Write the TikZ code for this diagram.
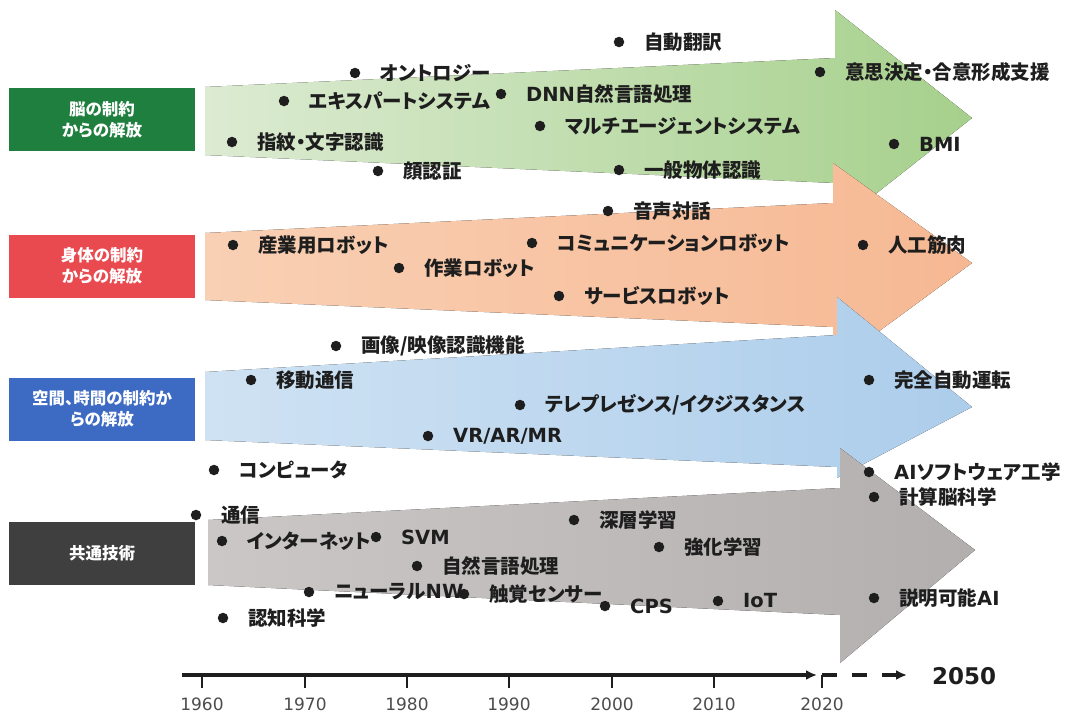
\documentclass[tikz,border=0pt]{standalone}
\usepackage{fontspec}
\setmainfont{Noto Sans CJK JP}[RawFeature=+palt]
\newfontfamily\lat{DejaVu Sans}
\usetikzlibrary{arrows.meta}

\definecolor{greenL}{HTML}{DCEBD2}
\definecolor{greenR}{HTML}{A6D08C}
\definecolor{orangeL}{HTML}{F9D0B4}
\definecolor{orangeR}{HTML}{F6B893}
\definecolor{blueL}{HTML}{CFE2F3}
\definecolor{blueR}{HTML}{ACCDEB}
\definecolor{greyL}{HTML}{CBC7C7}
\definecolor{greyR}{HTML}{B3AFAF}
\definecolor{brainbox}{HTML}{1F7F3F}
\definecolor{bodybox}{HTML}{E84A4F}
\definecolor{spacebox}{HTML}{3D6BC4}
\definecolor{commonbox}{HTML}{3F3F3F}
\definecolor{txt}{HTML}{1E1E1E}

\tikzset{
  catbox/.style={minimum width=186pt,minimum height=63pt,inner sep=0pt,text=white,align=center,font=\bfseries\fontsize{16.5}{21}\selectfont},
  dot/.style={circle,fill=txt,inner sep=0pt,minimum size=10.5pt},
  item/.style={anchor=west,inner sep=0pt,text=txt,font=\bfseries\fontsize{19.5}{19.5}\selectfont},
  axisline/.style={line width=3.5pt,draw=txt},
  tickline/.style={line width=2pt,draw=txt},
  yearlbl/.style={inner sep=0pt,text=black!70,font=\lat\fontsize{17}{17}\selectfont},
  endyear/.style={anchor=west,inner sep=0pt,text=txt,font=\lat\bfseries\fontsize{23}{23}\selectfont},
}

\begin{document}
\begin{tikzpicture}[x=1pt,y=-1pt]
    \useasboundingbox (0,0) rectangle (1073,715);

    % big arrows, later ones lie on top
    \fill[left color=greenL,right color=greenR] (205,87) -- (835,58) -- (835,10) -- (972,118) -- (835,226) -- (835,183) -- (205,155) -- cycle;
    \fill[left color=orangeL,right color=orangeR] (205,233) -- (833,203) -- (833,163) -- (972,263) -- (833,365) -- (833,327) -- (205,300) -- cycle;
    \fill[left color=blueL,right color=blueR] (205,372) -- (837,335) -- (837,297) -- (972,407) -- (837,478) -- (837,467) -- (205,440) -- cycle;
    \fill[left color=greyL,right color=greyR] (208,520) -- (840,488) -- (840,448) -- (975,550) -- (840,663) -- (840,615) -- (208,585) -- cycle;

    \node[catbox,fill=brainbox] (brain) at (102,119.5) {脳の制約\\からの解放};
    \node[catbox,fill=bodybox] (body) at (102,266) {身体の制約\\からの解放};
    \node[catbox,fill=spacebox] (space) at (102,409) {空間、時間の制約か\\らの解放};
    \node[catbox,fill=commonbox] (common) at (102,553) {共通技術};

    \foreach \x/\y/\t [count=\i] in {
        355/73/オントロジー, 619/42/自動翻訳, 284/101/エキスパートシステム,
        501/94/{{\lat DNN}自然言語処理}, 820/72/意思決定・合意形成支援,
        540/126/マルチエージェントシステム, 232/142/指紋・文字認識,
        894/144/{{\lat BMI}}, 619/170/一般物体認識, 378/171/顔認証,
        608/211/音声対話, 233/245/産業用ロボット, 532/243/コミュニケーションロボット,
        863/245/人工筋肉, 399/268/作業ロボット, 559/296/サービスロボット,
        336/346/{画像/映像認識機能}, 251/380/移動通信, 869/380/完全自動運転,
        520/405/{テレプレゼンス/イクジスタンス}, 428/436/{{\lat VR/AR/MR}},
        214/470/コンピュータ, 869/472/{{\lat AI}ソフトウェア工学}, 196/515/通信,
        874/497/計算脳科学, 574/520/深層学習, 222/541/インターネット,
        376/537/{{\lat SVM}}, 659/547/強化学習, 417/566/自然言語処理,
        309/592/{ニューラル{\lat NW}}, 464/594/触覚センサー, 605/606/{{\lat CPS}},
        718/601/{{\lat IoT}}, 874/598/{説明可能{\lat AI}}, 223/618/認知科学}
    {
        \node[dot] (d\i) at (\x,\y) {};
        \node[item] (t\i) at ([xshift=25pt]d\i.center) {\t};
    }

    % time axis
    \draw[axisline,-{Latex[length=11pt,width=10pt]}] (182,675) -- (817,675);
    \foreach \yr/\x in {1960/202,1970/305,1980/407,1990/509,2000/612,2010/714,2020/822}
    {
        \draw[tickline] (\x,675) -- (\x,688);
        \node[yearlbl] (y\yr) at (\x,704) {\yr};
    }
    \draw[axisline,dash pattern=on 15pt off 15pt,-{Latex[length=11pt,width=10pt]}] (822,675) -- (907,675);
    \node[endyear] (end) at (932,676) {2050};
\end{tikzpicture}
\end{document}
